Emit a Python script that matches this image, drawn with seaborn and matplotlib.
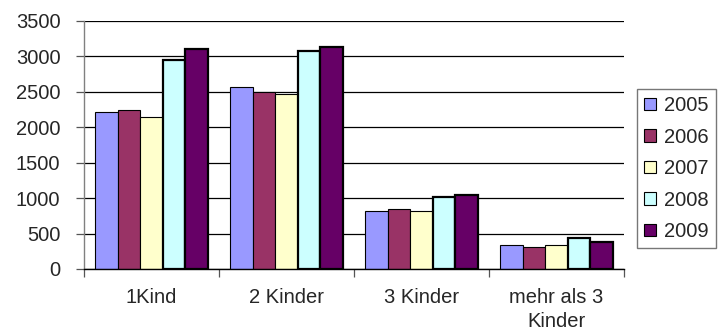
import matplotlib
matplotlib.use("Agg")
import matplotlib.pyplot as plt
import pandas as pd
import seaborn as sns

categories = ["1Kind", "2 Kinder", "3 Kinder", "mehr als 3\nKinder"]
years = ["2005", "2006", "2007", "2008", "2009"]
values_2005 = [2220, 2570, 820, 340]
values_2006 = [2250, 2500, 850, 310]
values_2007 = [2150, 2470, 820, 345]
values_2008 = [2950, 3080, 1010, 440]
values_2009 = [3110, 3140, 1050, 375]
yticks = [0, 500, 1000, 1500, 2000, 2500, 3000, 3500]
colors = ["#9999FF", "#993366", "#FFFFCC", "#CCFFFF", "#660066"]

series = [values_2005, values_2006, values_2007, values_2008, values_2009]
rows = []
for year, vals in zip(years, series):
    for cat, v in zip(categories, vals):
        rows.append({"Kategorie": cat, "Jahr": year, "Anzahl": v})
df = pd.DataFrame(rows)

sns.set_theme(style="white")
plt.rcParams["font.family"] = ["Liberation Sans", "DejaVu Sans"]
fs = 14.5

fig = plt.figure(figsize=(7.23, 3.33), dpi=100)
ax = fig.add_axes([84 / 723, 1 - 269 / 333, 540 / 723, 248 / 333])

sns.barplot(data=df, x="Kategorie", y="Anzahl", hue="Jahr", order=categories,
            hue_order=years, palette=colors, saturation=1, width=0.83, gap=0,
            edgecolor="black", linewidth=0.8, ax=ax, legend=True)

# heavier outlines on the two most recent years
for container, year in zip(ax.containers, years):
    for bar in container:
        if year in ("2008", "2009"):
            bar.set_linewidth(1.6)

ax.set_ylim(0, 3500)
ax.set_xlim(-0.5, len(categories) - 0.5)
ax.set_yticks(yticks)
ax.set_yticklabels([str(t) for t in yticks], fontsize=fs)
ax.yaxis.grid(True, color="black", linewidth=0.9)
ax.set_axisbelow(True)
ax.set_xlabel("")
ax.set_ylabel("")

ax.set_xticks(range(len(categories)))
ax.set_xticklabels(categories, fontsize=fs, linespacing=1.3)
ax.set_xticks([i - 0.5 for i in range(len(categories) + 1)], minor=True)
ax.tick_params(axis="x", which="major", length=0, pad=14)
ax.tick_params(axis="x", which="minor", length=6, width=0.9, color="#555555",
               direction="out", bottom=True)
ax.tick_params(axis="y", length=6, width=0.9, color="#555555", direction="out",
               left=True, pad=11)

for side in ("top", "right"):
    ax.spines[side].set_visible(False)
ax.spines["left"].set_color("#808080")
ax.spines["left"].set_linewidth(1.0)
ax.spines["bottom"].set_color("black")
ax.spines["bottom"].set_linewidth(1.0)

handles, labels = ax.get_legend_handles_labels()
ax.get_legend().remove()
leg = fig.legend(handles, labels, loc="upper left",
                 bbox_to_anchor=(637 / 723, 1 - 89 / 333),
                 bbox_transform=fig.transFigure, fontsize=fs, frameon=True,
                 fancybox=False, borderpad=0.35, handlelength=0.6,
                 handleheight=0.6, handletextpad=0.4, labelspacing=0.62,
                 borderaxespad=0)
leg.get_frame().set_edgecolor("#555555")
leg.get_frame().set_linewidth(1.0)
for h in leg.legend_handles:
    h.set_edgecolor("black")
    h.set_linewidth(0.8)

fig.savefig("out.png", dpi=100)
